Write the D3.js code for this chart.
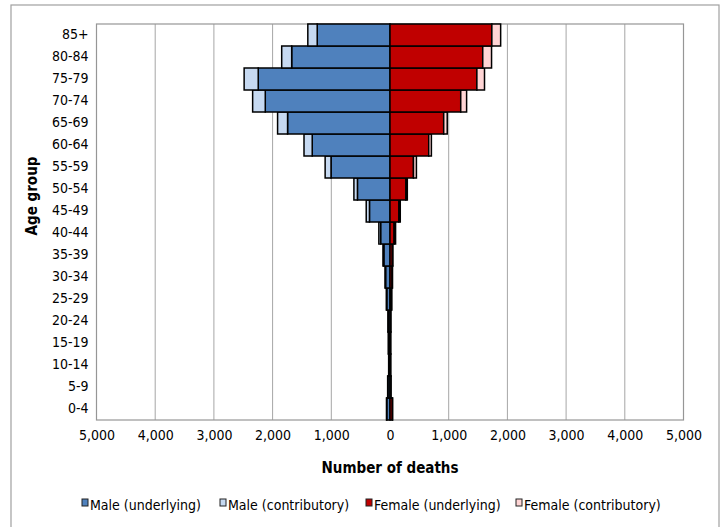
<!DOCTYPE html>
<html>
<head>
<meta charset="utf-8">
<script src="https://cdn.jsdelivr.net/npm/d3@7"></script>
<style>
  body { margin: 0; background: #fff; }
  svg { display: block; }
  .narrow { font-family: "Liberation Sans Narrow", "Arial Narrow", "DejaVu Sans Condensed", sans-serif; }
  .bold { font-family: "Liberation Sans Narrow", "Arial Narrow", "DejaVu Sans Condensed", sans-serif; font-weight: bold; }
</style>
</head>
<body>
<svg id="chart" width="724" height="527"></svg>
<script>
const ageGroups = ["0-4","5-9","10-14","15-19","20-24","25-29","30-34","35-39","40-44","45-49","50-54","55-59","60-64","65-69","70-74","75-79","80-84","85+"];
const maleUnderlying   = [55, 35, 20, 25, 30, 55, 75, 105, 160, 350, 555, 1005, 1325, 1745, 2125, 2245, 1675, 1240];
const maleContributory = [5, 5, 3, 3, 5, 8, 10, 15, 30, 55, 60, 100, 140, 170, 215, 240, 170, 160];
const femaleUnderlying = [40, 15, 10, 10, 12, 25, 35, 40, 70, 150, 270, 400, 660, 915, 1205, 1480, 1580, 1735];
const femaleContributory = [5, 2, 2, 2, 3, 5, 8, 10, 25, 25, 25, 50, 45, 60, 100, 130, 150, 150];
const xTickValues = [-5000,-4000,-3000,-2000,-1000,0,1000,2000,3000,4000,5000];
const seriesNames = ["Male (underlying)", "Male (contributory)", "Female (underlying)", "Female (contributory)"];
const seriesColors = ["#4F81BD", "#C6D9F1", "#C00000", "#FFD5D5"];

const svg = d3.select("#chart");
const plot = {left: 96.5, right: 683.5, top: 24, bottom: 420};

// outer frame
svg.append("rect").attr("x", 11).attr("y", 5).attr("width", 708).attr("height", 560)
  .attr("fill", "none").attr("stroke", "#a0a0a0").attr("stroke-width", 1.2);

const x = d3.scaleLinear().domain([-5000, 5000]).range([plot.left, plot.right]);
const y = d3.scaleBand().domain(ageGroups.slice().reverse()).range([plot.top, plot.bottom]).padding(0);

// gridlines
svg.append("g").selectAll("line").data(xTickValues.slice(1, -1)).join("line")
  .attr("x1", d => x(d)).attr("x2", d => x(d))
  .attr("y1", plot.top).attr("y2", plot.bottom)
  .attr("stroke", "#a6a6a6").attr("stroke-width", 1);

// plot border
svg.append("rect").attr("x", plot.left).attr("y", plot.top)
  .attr("width", plot.right - plot.left).attr("height", plot.bottom - plot.top)
  .attr("fill", "none").attr("stroke", "#969696").attr("stroke-width", 1.2);

// bars
const rows = ageGroups.map((a, i) => ({
  age: a,
  mu: maleUnderlying[i], mc: maleContributory[i],
  fu: femaleUnderlying[i], fc: femaleContributory[i]
}));

const segs = [];
rows.forEach(r => {
  segs.push({age: r.age, x0: -r.mu, x1: 0, c: seriesColors[0]});
  segs.push({age: r.age, x0: -(r.mu + r.mc), x1: -r.mu, c: seriesColors[1]});
  segs.push({age: r.age, x0: 0, x1: r.fu, c: seriesColors[2]});
  segs.push({age: r.age, x0: r.fu, x1: r.fu + r.fc, c: seriesColors[3]});
});

svg.append("g").selectAll("rect").data(segs).join("rect")
  .attr("x", d => x(d.x0))
  .attr("width", d => x(d.x1) - x(d.x0))
  .attr("y", d => y(d.age))
  .attr("height", y.bandwidth())
  .attr("fill", d => d.c)
  .attr("stroke", "#000").attr("stroke-width", 1.5);

// x axis labels
const xAxis = d3.axisBottom(x).tickValues(xTickValues)
  .tickFormat(d => d3.format(",")(Math.abs(d))).tickSize(0).tickPadding(10);
const gx = svg.append("g").attr("transform", `translate(0,${plot.bottom})`).call(xAxis);
gx.select(".domain").remove();
gx.selectAll("text").attr("class", "narrow").attr("font-size", 14).attr("fill", "#000");

// y axis labels
const yAxis = d3.axisLeft(y).tickSize(0).tickPadding(8);
const gy = svg.append("g").attr("transform", `translate(${plot.left},0)`).call(yAxis);
gy.select(".domain").remove();
gy.selectAll("text").attr("class", "narrow").attr("font-size", 14).attr("fill", "#000");

// axis titles
svg.append("text").attr("class", "bold").attr("x", 390).attr("y", 473)
  .attr("text-anchor", "middle").attr("font-size", 15).text("Number of deaths");
svg.append("text").attr("class", "bold")
  .attr("transform", "translate(37,196) rotate(-90)")
  .attr("text-anchor", "middle").attr("font-size", 15).text("Age group");

// legend
const legendX = [82, 220, 366, 516];
const lg = svg.append("g").selectAll("g").data(seriesNames).join("g")
  .attr("transform", (d, i) => `translate(${legendX[i]},505)`);
lg.append("rect").attr("x", 0).attr("y", -6).attr("width", 6).attr("height", 7)
  .attr("fill", (d, i) => seriesColors[i]).attr("stroke", "#222").attr("stroke-width", 1);
lg.append("text").attr("class", "narrow").attr("x", 8).attr("y", 0).attr("dy", "0.35em")
  .attr("font-size", 14).attr("fill", "#000").text(d => d);
</script>
</body>
</html>
